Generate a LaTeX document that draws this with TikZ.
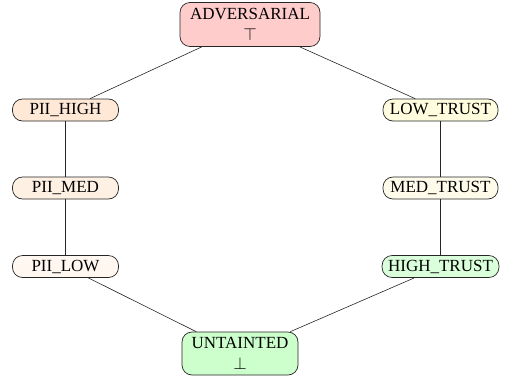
\documentclass[tikz,border=0pt]{standalone}
\usepackage{fontspec}
\setmainfont{Liberation Serif}
\usepackage{amssymb}
\definecolor{advfill}{HTML}{FFCCCC}
\definecolor{piihigh}{HTML}{FFE8D6}
\definecolor{piimed}{HTML}{FFF0E4}
\definecolor{piilow}{HTML}{FFF7F0}
\definecolor{lowtrust}{HTML}{FFFDDE}
\definecolor{medtrust}{HTML}{FFFBEA}
\definecolor{hightrust}{HTML}{D9FFDB}
\definecolor{untfill}{HTML}{CCFFCC}
\tikzset{
  lvl/.style={draw=black!85, line width=0.7pt, rounded corners=10pt, font=\fontsize{17}{20}\selectfont,
    minimum width=106pt, minimum height=22pt, inner xsep=6pt, inner ysep=2pt},
  big/.style={lvl, align=center, inner xsep=8pt, inner ysep=2pt, minimum height=44pt},
  edge/.style={draw=black!85, line width=0.6pt}
}
\begin{document}
\begin{tikzpicture}[x=1pt,y=-1pt]
\useasboundingbox (0,0) rectangle (510,383);
\node[big, fill=advfill, minimum width=140pt] (adv) at (250,24.5) {ADVERSARIAL\\[1.5pt]$\top$};
\node[lvl, fill=piihigh] (ph) at (65.5,110) {PII\_HIGH};
\node[lvl, fill=piimed] (pm) at (65.5,188) {PII\_MED};
\node[lvl, fill=piilow] (pl) at (65.5,266.5) {PII\_LOW};
\node[lvl, fill=lowtrust, minimum width=115pt] (lt) at (440.5,110) {LOW\_TRUST};
\node[lvl, fill=medtrust, minimum width=115pt] (mt) at (440.5,188) {MED\_TRUST};
\node[lvl, fill=hightrust] (ht) at (440.5,266.5) {HIGH\_TRUST};
\node[big, fill=untfill, minimum width=116pt, minimum height=43pt] (unt) at (240,353.5) {UNTAINTED\\[1.5pt]$\bot$};
\draw[edge] (adv) -- (ph);
\draw[edge] (adv) -- (lt);
\draw[edge] (ph) -- (pm);
\draw[edge] (pm) -- (pl);
\draw[edge] (lt) -- (mt);
\draw[edge] (mt) -- (ht);
\draw[edge] (pl) -- (unt);
\draw[edge] (ht) -- (unt);
\end{tikzpicture}
\end{document}
